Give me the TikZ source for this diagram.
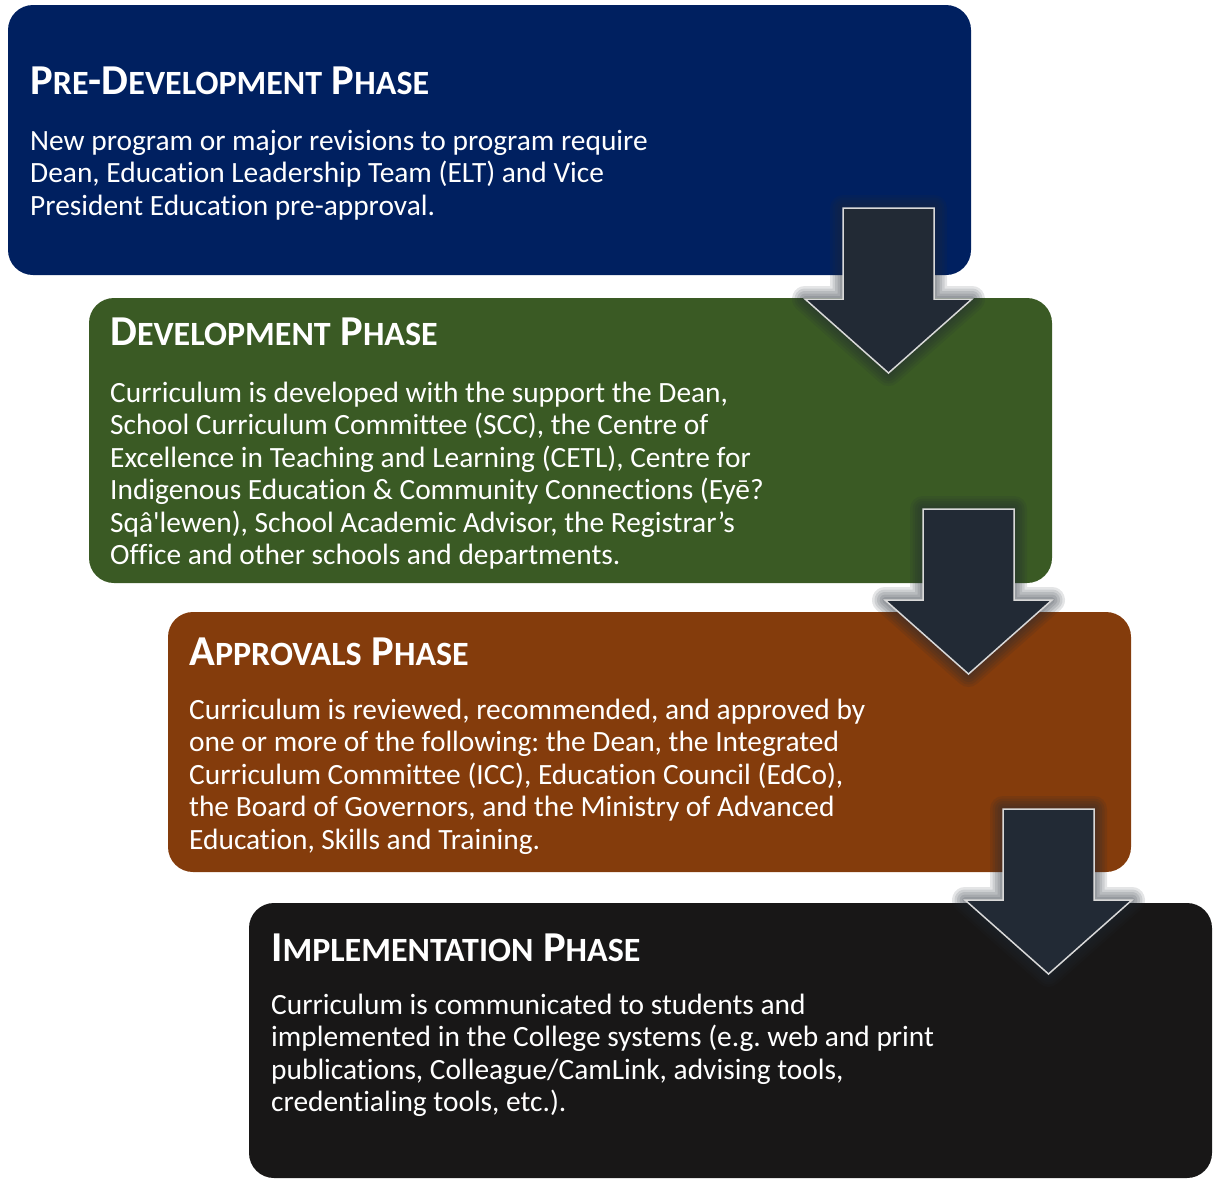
\documentclass[tikz,border=0pt]{standalone}
\usepackage{fontspec}
\setmainfont{Carlito}[Ligatures={TeXOff,NoCommon}]
\frenchspacing

\definecolor{preblue}{HTML}{002060}
\definecolor{devgreen}{HTML}{3A5A24}
\definecolor{apprbrown}{HTML}{843C0C}
\definecolor{implblack}{HTML}{181717}
\definecolor{arrowfill}{HTML}{222A35}

% small capitals for the phase titles
\newcommand{\sm}[1]{{\fontsize{34}{34}\selectfont #1}}
% body lines, first baseline on the node's base
\newcommand{\lines}[1]{\begin{tabular}[t]{@{}l@{}}#1\end{tabular}}

\tikzset{
  phasebox/.style={rounded corners=25pt},
  phasetitle/.style={anchor=base west, inner sep=0pt, text=white,
    font=\bfseries\fontsize{42.6}{44}\selectfont},
  phasetext/.style={anchor=base west, inner sep=0pt, text=white,
    font=\fontsize{29.4}{32.5}\selectfont},
  arrowglow/.style={draw=arrowfill, draw opacity=0.12, line join=round},
  downarrow/.style={fill=arrowfill, draw=white!85!black, line width=1.5pt}
}

\begin{document}
\begin{tikzpicture}[x=1pt,y=-1pt]
  \useasboundingbox (0,0) rectangle (1213,1179);

  % phase boxes
  \fill[preblue,phasebox] (8,5) rectangle (971,275);
  \fill[devgreen,phasebox] (89,298) rectangle (1052,583);
  \fill[apprbrown,phasebox] (168,612) rectangle (1131,872);
  \fill[implblack,phasebox] (249,903) rectangle (1212,1178);

  \node[phasetitle] (pretitle) at (30,94) {P\sm{RE}-D\sm{EVELOPMENT} P\sm{HASE}};
  \node[phasetext] (pretext) at (30,150) {\lines{New program or major revisions to program require\\
    Dean, Education Leadership Team (ELT) and Vice\\
    President Education pre-approval.}};

  \node[phasetitle] (devtitle) at (110,345) {D\sm{EVELOPMENT} P\sm{HASE}};
  \node[phasetext] (devtext) at (110,402) {\lines{Curriculum is developed with the support the Dean,\\
    School Curriculum Committee (SCC), the Centre of\\
    Excellence in Teaching and Learning (CETL), Centre for\\
    Indigenous Education \& Community Connections (Eyē?\\
    Sqâ'lewen), School Academic Advisor, the Registrar’s\\
    Office and other schools and departments.}};

  \node[phasetitle] (apprtitle) at (189,665) {A\sm{PPROVALS} P\sm{HASE}};
  \node[phasetext] (apprtext) at (189,719) {\lines{Curriculum is reviewed, recommended, and approved by\\
    one or more of the following: the Dean, the Integrated\\
    Curriculum Committee (ICC), Education Council (EdCo),\\
    the Board of Governors, and the Ministry of Advanced\\
    Education, Skills and Training.}};

  \node[phasetitle] (impltitle) at (271,961) {I\sm{MPLEMENTATION} P\sm{HASE}};
  \node[phasetext] (impltext) at (271,1014) {\lines{Curriculum is communicated to students and\\
    implemented in the College systems (e.g. web and print\\
    publications, Colleague/CamLink, advising tools,\\
    credentialing tools, etc.).}};

  % down arrows between the phases
  \foreach \ax/\ay in {843/208, 923/509, 1003/809} {
    \foreach \w in {26,21,16,11,6}
      \draw[arrowglow,line width=\w] (\ax,\ay) -- ++(91,0) -- ++(0,91) -- ++(38,0)
        -- ++(-83.5,74) -- ++(-83.5,-74) -- ++(38,0) -- cycle;
    \draw[downarrow] (\ax,\ay) -- ++(91,0) -- ++(0,91) -- ++(38,0)
      -- ++(-83.5,74) -- ++(-83.5,-74) -- ++(38,0) -- cycle;
  }
\end{tikzpicture}
\end{document}
